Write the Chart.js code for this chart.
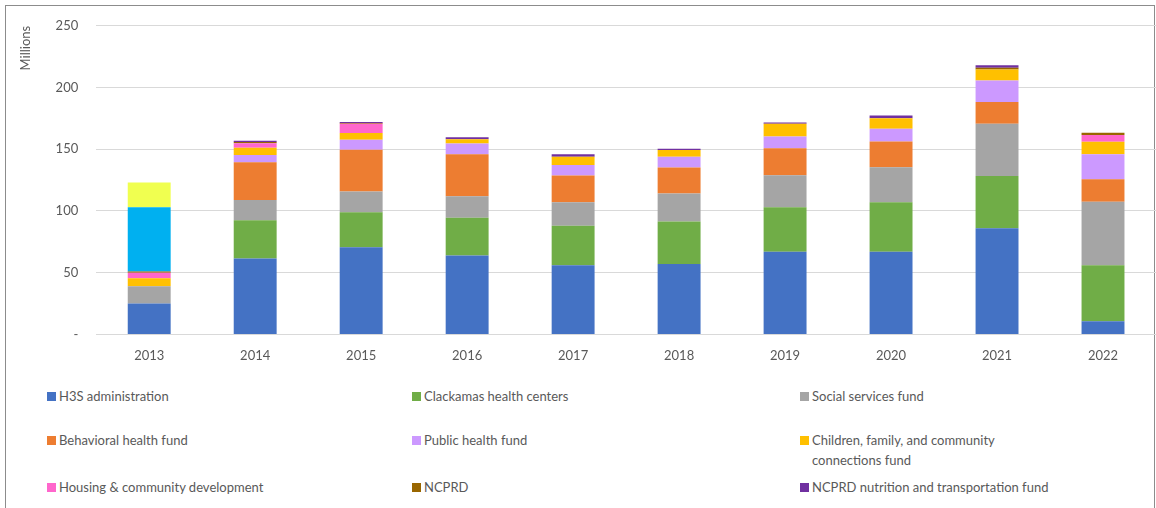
<!DOCTYPE html>
<html>
<head>
<meta charset="utf-8">
<script src="https://cdn.jsdelivr.net/npm/chart.js@4"></script>
<style>
  body{margin:0;background:#fff;font-family:Lato,"Open Sans",sans-serif;}
  #frame{position:absolute;left:5px;top:5px;width:1148px;height:510px;border:1.5px solid #8c8c8c;border-bottom:none;}
  #chartBox{position:absolute;left:0;top:0;width:1156px;height:370px;}
  #legend{position:absolute;left:0;top:380px;width:1156px;height:128px;}
  .item{position:absolute;font-size:13px;color:#595959;line-height:20px;}
  .item i{position:absolute;left:-12px;top:6px;width:9px;height:9px;}
</style>
</head>
<body>
<div id="frame"></div>
<div id="chartBox"><canvas id="barChart"></canvas></div>
<div id="legend"></div>
<script>
// fiscal years
const years=['2013','2014','2015','2016','2017','2018','2019','2020','2021','2022'];

// amounts in millions per fund
const h3sAdmin=[25,61.5,70.5,64,56,57,67,67,86,10.6];
const healthCenters=[0,31,28.5,30.5,32,34.5,36,40,42.4,45.4];
const socialServices=[14,16.3,16.7,17.5,19,22.7,26,28.4,42.3,51.4];
const behavioral=[0,30.6,33.9,33.9,21.7,21.1,21.9,20.8,17.6,18.2];
const publicHealth=[0,5.9,8.1,8.7,8.6,8.6,9.5,10.5,17.3,20.3];
const children=[6.5,5.9,5.4,3.4,6.7,5.5,10.3,8.5,8.9,10.2];
const housing=[4.5,3.6,7.6,0,0,0,0,0,0,5.4];
const ncprd=[1,1,0.6,0,0,0,0,0,1.5,1.9];
const ncprdNutrition=[0,1.1,0.7,1.7,2,1,1,2.1,2,0];
// 2013-only funds (no legend entry)
const otherA=[52,0,0,0,0,0,0,0,0,0];
const otherB=[20,0,0,0,0,0,0,0,0,0];

const yTicks=[0,50,100,150,200,250];

const series=[
  {label:'H3S administration',data:h3sAdmin,color:'#4472C4',legend:true},
  {label:'Clackamas health centers',data:healthCenters,color:'#70AD47',legend:true},
  {label:'Social services fund',data:socialServices,color:'#A5A5A5',legend:true},
  {label:'Behavioral health fund',data:behavioral,color:'#ED7D31',legend:true},
  {label:'Public health fund',data:publicHealth,color:'#CC99FF',legend:true},
  {label:'Children, family, and community connections fund',data:children,color:'#FFC000',legend:true},
  {label:'Housing & community development',data:housing,color:'#FF66CC',legend:true},
  {label:'NCPRD',data:ncprd,color:'#996600',legend:true},
  {label:'NCPRD nutrition and transportation fund',data:ncprdNutrition,color:'#7030A0',legend:true},
  {label:'Other A',data:otherA,color:'#00B0F0',legend:false},
  {label:'Other B',data:otherB,color:'#F0FF50',legend:false}
];

const ctx=document.getElementById('barChart').getContext('2d');
const barchart=new Chart(ctx,{
  type:'bar',
  data:{
    labels:years,
    datasets:series.map(s=>({
      label:s.label,
      data:s.data,
      backgroundColor:s.color,
      borderWidth:0,
      barPercentage:0.405,
      categoryPercentage:1
    }))
  },
  options:{
    responsive:false,
    animation:false,
    maintainAspectRatio:false,
    layout:{padding:{top:19,right:0,left:14,bottom:0}},
    plugins:{legend:{display:false},tooltip:{enabled:false}},
    scales:{
      x:{
        stacked:true,
        grid:{display:false},
        border:{color:'#d9d9d9'},
        ticks:{color:'#595959',font:{family:'Lato',size:13},padding:6}
      },
      y:{
        stacked:true,
        min:0,max:250,
        afterBuildTicks:axis=>{axis.ticks=yTicks.map(v=>({value:v}));},
        grid:{color:'#d9d9d9',drawTicks:false},
        border:{display:false},
        title:{display:true,text:'Millions',align:'end',color:'#595959',font:{family:'Lato',size:13},padding:{bottom:4}},
        ticks:{color:'#595959',font:{family:'Lato',size:13},padding:18,
          callback:v=>v===0?'-':v}
      }
    }
  }
});
// fix canvas size
barchart.resize(1156,370);

// legend in three columns
const pos=[[59,6],[424,6],[812,6],[59,50],[424,50],[812,50],[59,97],[424,97],[812,97]];
const legendEl=document.getElementById('legend');
series.filter(s=>s.legend).forEach((s,i)=>{
  const d=document.createElement('div');
  d.className='item';
  d.style.left=pos[i][0]+'px';
  d.style.top=pos[i][1]+'px';
  if(i===5) d.style.width='240px';
  d.innerHTML='<i style="background:'+s.color+'"></i>'+s.label;
  legendEl.appendChild(d);
});
</script>
</body>
</html>
